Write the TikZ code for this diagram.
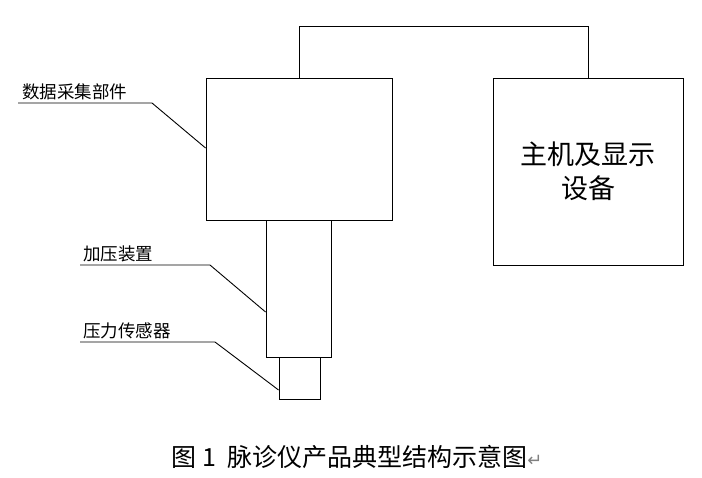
\documentclass[tikz,border=0pt]{standalone}
\usepackage{fontspec}
\newfontfamily\cjk{Noto Sans CJK SC}
\newfontfamily\dv{DejaVu Sans}
\begin{document}
\begin{tikzpicture}[x=1pt,y=-1pt,line width=0.9pt,
  lbl/.style={font=\cjk\fontsize{17.5}{19}\selectfont,inner sep=0pt,anchor=base west},
  box/.style={draw,line width=0.9pt}]
\useasboundingbox (0,0) rectangle (702,478);
\node[box,minimum width=186pt,minimum height=142pt] (data) at (299,149) {};
\node[box,minimum width=190pt,minimum height=187pt,align=center,font=\cjk\fontsize{27}{34}\selectfont] (host) at (588,171.5) {主机及显示\\设备};
\node[box,minimum width=65pt,minimum height=137pt] (press) at (298.5,288.5) {};
\node[box,minimum width=41pt,minimum height=42pt] (sens) at (299.5,378) {};
\draw (data.north) -- (299,26) -| (host.north);
\node[lbl] (l1) at (22,99) {数据采集部件};
\node[lbl] (l2) at (83,261) {加压装置};
\node[lbl] (l3) at (83,338) {压力传感器};
\draw (18,103) -- (152,103) -- (data.west |- 0,148);
\draw (80,265) -- (210,265) -- (press.west |- 0,312);
\draw (80,342) -- (215,342) -- (sens.west |- 0,390);
\node[inner sep=0pt,anchor=base] (cap) at (357,467) {\cjk\fontsize{25}{28}\selectfont 图 1\ \ 脉诊仪产品典型结构示意图{\dv\color{gray}\fontsize{18}{20}\selectfont ↵}};
\end{tikzpicture}
\end{document}
